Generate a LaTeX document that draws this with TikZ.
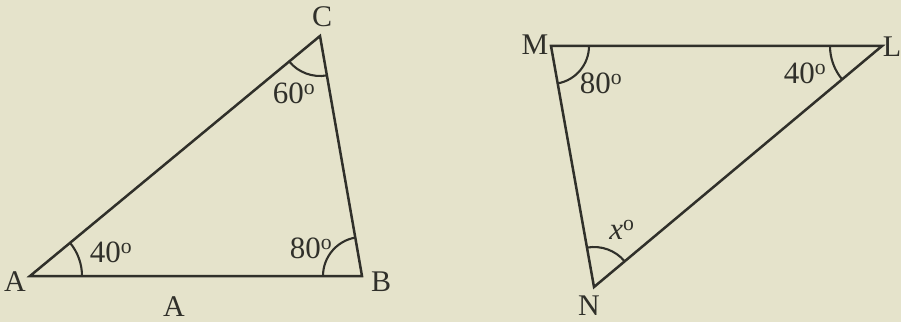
\documentclass[tikz,border=0pt]{standalone}
\usepackage{fontspec}
\setmainfont{Liberation Serif}
\usetikzlibrary{angles}
\definecolor{bg}{RGB}{229,227,203}
\definecolor{ink}{RGB}{48,48,42}
\tikzset{
  side/.style={draw=ink, line width=2.5pt, line join=miter},
  arcmark/.style={draw=ink, line width=2.1pt},
  vlabel/.style={text=ink, inner sep=0pt, font=\fontsize{30}{32}\selectfont},
  alabel/.style={text=ink, inner sep=0pt, font=\fontsize{31}{34}\selectfont},
}
\newcommand{\dg}{\textsuperscript{o}}
\begin{document}
\begin{tikzpicture}[x=1pt,y=1pt]
\fill[bg] (0,0) rectangle (901,322);
\useasboundingbox (0,0) rectangle (901,322);
% triangle ABC
\coordinate (A) at (30,46);
\coordinate (B) at (362,46);
\coordinate (C) at (320,286);
\draw[side] (A) -- (B) -- (C) -- cycle;
\pic[arcmark, angle radius=52pt] {angle = B--A--C};
\pic[arcmark, angle radius=40pt] {angle = A--C--B};
\pic[arcmark, angle radius=39pt] {angle = C--B--A};
\node[vlabel] (lA) at (15,40) {A};
\node[vlabel] (lB) at (381,40) {B};
\node[vlabel] (lC) at (322,305) {C};
\node[vlabel] (lA2) at (174,15) {A};
\node[alabel] (a1) at (111,70) {40\dg};
\node[alabel] (a2) at (294,229) {60\dg};
\node[alabel] (a3) at (311,74) {80\dg};
% triangle MLN
\coordinate (M) at (551,276);
\coordinate (L) at (882,276);
\coordinate (N) at (594,35);
\draw[side] (M) -- (L) -- (N) -- cycle;
\pic[arcmark, angle radius=38pt] {angle = N--M--L};
\pic[arcmark, angle radius=52pt] {angle = M--L--N};
\pic[arcmark, angle radius=40pt] {angle = L--N--M};
\node[vlabel] (lM) at (535,277) {M};
\node[vlabel] (lL) at (892,275) {L};
\node[vlabel] (lN) at (589,16) {N};
\node[alabel] (b1) at (601,239) {80\dg};
\node[alabel] (b2) at (805,249) {40\dg};
\node[alabel] (b3) at (622,92) {\textit{x}\dg};
\end{tikzpicture}
\end{document}
